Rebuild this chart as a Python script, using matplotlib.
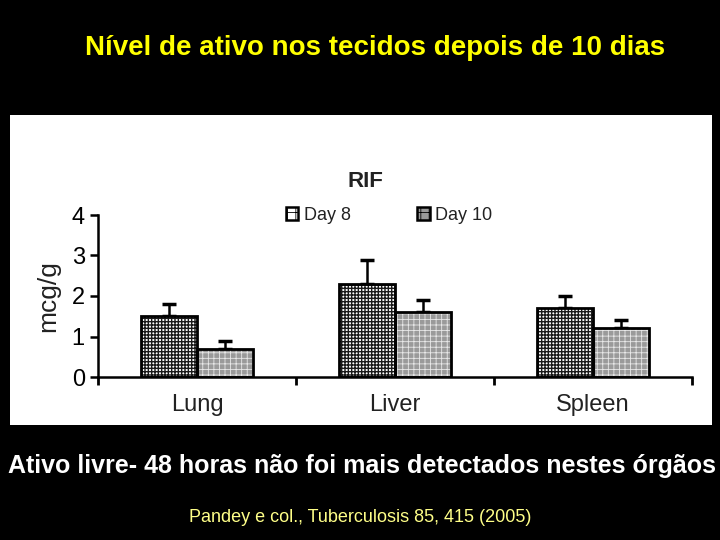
import numpy as np
import matplotlib.pyplot as plt
from matplotlib.patches import Rectangle

plt.rcParams['font.family'] = ['Liberation Sans', 'DejaVu Sans']

organs = ["Lung", "Liver", "Spleen"]
series = ["Day 8", "Day 10"]
day8 = [1.5, 2.3, 1.7]
day8_err = [0.3, 0.6, 0.3]
day10 = [0.7, 1.6, 1.2]
day10_err = [0.2, 0.3, 0.2]


def main():
    fig = plt.figure(figsize=(7.2, 5.4), dpi=100, facecolor="black")

    # white panel holding the chart
    fig.add_artist(Rectangle((10 / 720, 1 - 425 / 540), 702 / 720, 310 / 540,
                             transform=fig.transFigure, facecolor="white",
                             edgecolor="none", zorder=0))

    ax = fig.add_axes([98 / 720, 1 - 377 / 540, 594 / 720, 162 / 540])
    ax.set_facecolor("none")

    x = np.arange(len(organs))
    w = 0.285
    # (values, errors, face colour, hatch colour, hatch, hatch line width)
    styles = [
        (day8, day8_err, "white", "#1a1a1a", "+++++", 1.0),
        (day10, day10_err, "#9a9a9a", "#e8e8e8", "+++", 0.6),
    ]
    handles = []
    for i, (vals, err, fc, hc, hatch, hlw) in enumerate(styles):
        plt.rcParams['hatch.linewidth'] = hlw
        pos = x + (i - 0.5) * w
        ax.bar(pos, vals, w, color=fc, edgecolor=hc, hatch=hatch,
               linewidth=0, zorder=2)
        ax.bar(pos, vals, w, fill=False, edgecolor="black", linewidth=2,
               zorder=3)
        ax.errorbar(pos, vals, yerr=[np.zeros(len(err)), err], fmt="none",
                    ecolor="black", elinewidth=1.8, capsize=5, capthick=2.5,
                    zorder=1)
        handles.append(Rectangle((0, 0), 1, 1, facecolor=fc, edgecolor="black",
                                 hatch="++", linewidth=1.8))

    ax.set_xlim(-0.5, 2.5)
    ax.set_ylim(0, 4)
    ax.set_yticks([0, 1, 2, 3, 4])
    ax.set_xticks([-0.5, 0.5, 1.5, 2.5])
    ax.set_xticklabels([])
    ax.tick_params(axis="y", labelsize=17, width=1.8, length=6, direction="out")
    ax.tick_params(axis="x", width=2, length=6, direction="out")
    for s in ["top", "right"]:
        ax.spines[s].set_visible(False)
    for s in ["left", "bottom"]:
        ax.spines[s].set_linewidth(1.8)
    for xi, name in zip(x, organs):
        ax.text(xi, -0.42, name, ha="center", va="top", fontsize=17,
                color="#222222")
    ax.set_ylabel("mcg/g", fontsize=19, labelpad=8, color="#222222")

    ax.legend(handles, series, ncol=2, frameon=False, fontsize=13,
              loc="center", bbox_to_anchor=(0.49, 1.0),
              handlelength=0.7, handleheight=0.7, handletextpad=0.3,
              columnspacing=3.7, labelcolor="#222222")

    fig.text(365 / 720, 1 - 181 / 540, "RIF", ha="center", va="center",
             fontsize=16, fontweight="bold", color="#222222")

    fig.text(375 / 720, 1 - 48 / 540, "Nível de ativo nos tecidos depois de 10 dias",
             ha="center", va="center", fontsize=20, fontweight="bold",
             color="#ffff00")
    fig.text(362 / 720, 1 - 466 / 540,
             "Ativo livre- 48 horas não foi mais detectados nestes órgãos",
             ha="center", va="center", fontsize=18, fontweight="bold",
             color="white")
    fig.text(360 / 720, 1 - 517 / 540, "Pandey e col., Tuberculosis 85, 415 (2005)",
             ha="center", va="center", fontsize=13, color="#ffff88")

    fig.savefig("out.png", dpi=100, facecolor="black")


if __name__ == "__main__":
    main()
